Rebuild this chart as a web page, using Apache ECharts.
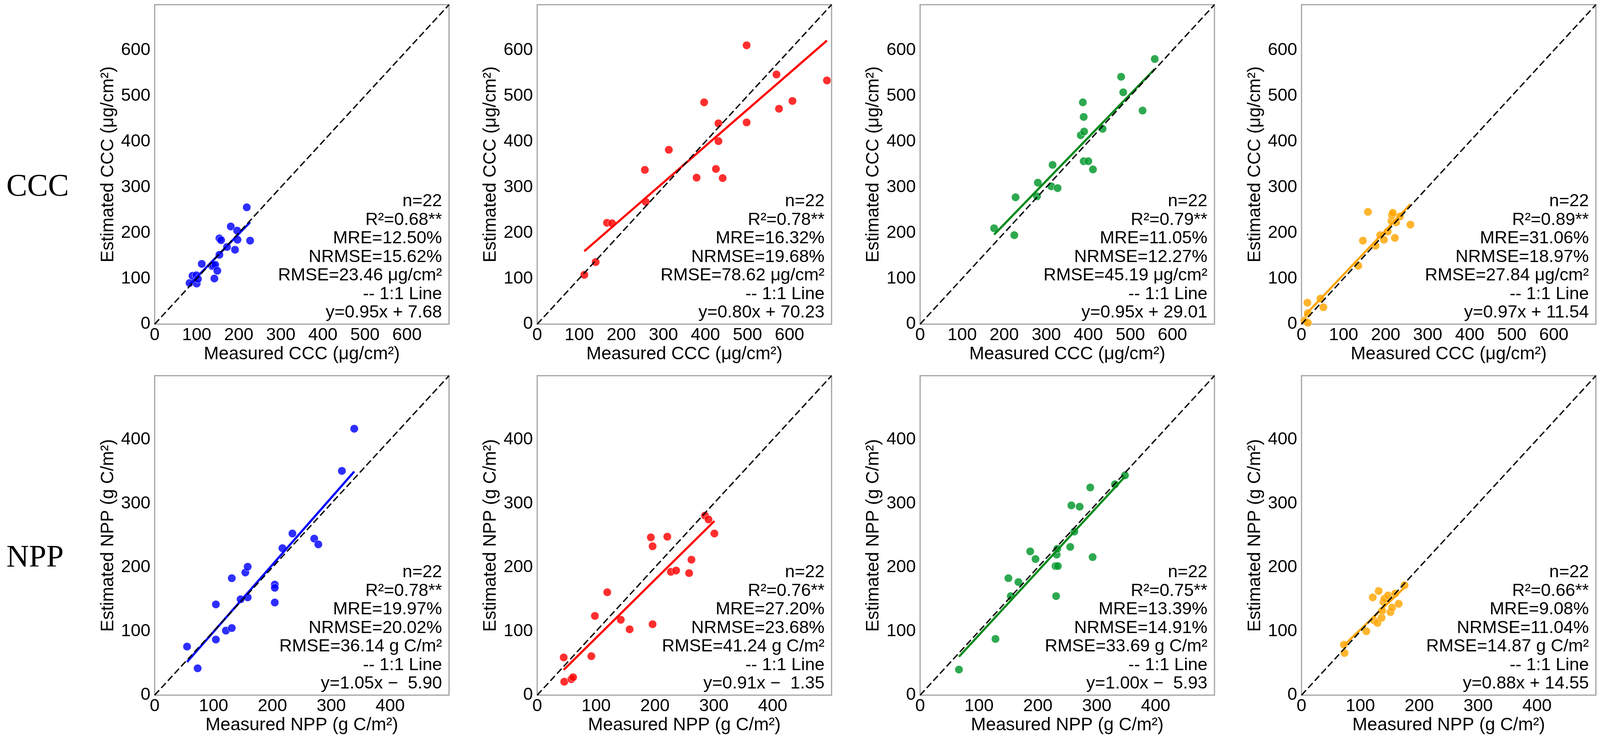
<!DOCTYPE html>
<html lang="en">
<head>
<meta charset="UTF-8">
<script src="https://cdn.jsdelivr.net/npm/echarts@6.0.0/dist/echarts.min.js"></script>
<style>
    html, body { margin: 0; padding: 0; background: #fff; overflow: hidden; }
</style>
</head>
<body>
<div id="main" style="width: 100%; height: 1900px"></div>
<script>
    // ---- CCC row (μg/cm²), one pair of arrays per panel ----
    var cccMeasured1 = [83, 90, 99, 100, 103, 112, 137, 140, 144, 142, 149, 154, 154, 158, 172, 181, 191, 196, 197, 219, 227];
    var cccEstimated1 = [90, 106, 107, 89, 99, 132, 127, 128, 130, 100, 117, 152, 188, 184, 169, 214, 163, 205, 185, 256, 183];
    var cccMeasured2 = [112, 139, 166, 178, 256, 258, 313, 379, 397, 425, 431, 431, 441, 498, 498, 569, 575, 607, 689];
    var cccEstimated2 = [108, 136, 222, 221, 338, 268, 382, 321, 486, 340, 440, 401, 320, 611, 442, 547, 472, 489, 534];
    var cccMeasured3 = [176, 224, 227, 278, 280, 312, 315, 327, 382, 387, 389, 390, 389, 400, 411, 434, 478, 483, 529, 558];
    var cccEstimated3 = [210, 195, 278, 280, 310, 302, 349, 298, 414, 486, 454, 422, 357, 357, 339, 428, 542, 508, 468, 581];
    var cccMeasured4 = [7, 15, 14, 15, 45, 52, 135, 146, 158, 176, 187, 196, 205, 214, 215, 217, 222, 225, 234, 259];
    var cccEstimated4 = [8, 3, 47, 24, 56, 37, 128, 183, 246, 172, 195, 185, 203, 226, 239, 244, 189, 223, 236, 218];

    // ---- NPP row (g C/m²) ----
    var nppMeasured1 = [55, 73, 104, 104, 121, 131, 131, 146, 154, 158, 158, 204, 204, 204, 217, 234, 271, 278, 318, 339];
    var nppEstimated1 = [76, 42, 87, 142, 101, 105, 183, 150, 192, 201, 153, 173, 168, 145, 230, 253, 245, 236, 351, 417];
    var nppMeasured2 = [45, 46, 58, 61, 92, 98, 119, 142, 157, 193, 196, 196, 221, 227, 236, 258, 262, 285, 291, 301];
    var nppEstimated2 = [59, 21, 25, 28, 61, 124, 161, 118, 103, 247, 233, 111, 248, 193, 195, 191, 212, 281, 275, 253];
    var nppMeasured3 = [66, 128, 150, 154, 167, 187, 196, 230, 234, 232, 233, 231, 255, 257, 262, 271, 289, 293, 331, 348];
    var nppEstimated3 = [40, 88, 183, 155, 177, 225, 213, 202, 202, 220, 229, 155, 232, 297, 256, 295, 325, 216, 330, 344];
    var nppMeasured4 = [72, 73, 110, 121, 123, 129, 131, 136, 137, 139, 141, 147, 151, 154, 159, 165, 175];
    var nppEstimated4 = [79, 66, 100, 153, 117, 113, 163, 121, 132, 146, 151, 156, 130, 137, 159, 143, 172];

    // fitted lines and statistics
    var cccSlope = [0.95, 0.80, 0.95, 0.97];
    var cccIntercept = [7.68, 70.23, 29.01, 11.54];
    var nppSlope = [1.05, 0.91, 1.00, 0.88];
    var nppIntercept = [-5.90, -1.35, -5.93, 14.55];

    var cccR2 = ['0.68', '0.78', '0.79', '0.89'];
    var cccMRE = ['12.50', '16.32', '11.05', '31.06'];
    var cccNRMSE = ['15.62', '19.68', '12.27', '18.97'];
    var cccRMSE = ['23.46', '78.62', '45.19', '27.84'];
    var nppR2 = ['0.78', '0.76', '0.75', '0.66'];
    var nppMRE = ['19.97', '27.20', '13.39', '9.08'];
    var nppNRMSE = ['20.02', '23.68', '14.91', '11.04'];
    var nppRMSE = ['36.14', '41.24', '33.69', '14.87'];

    var sampleCount = 22;
    var cccAxisMax = 700;
    var nppAxisMax = 500;
    var tickStep = 100;

    var pointColors = ['#0000ff', '#ff0000', '#00962a', '#ffa500'];
    var lineColors = ['#0000ff', '#ff0000', '#078a1c', '#ffa500'];

    var chartDom = document.getElementById('main');
    // layout (px, for a 4283 wide page; scaled if the window is narrower)
    var sx = (chartDom.clientWidth || 4283) / 4283;
    var plotLefts = [414, 1438, 2463, 3484];
    var rowTops = [12, 962];
    var plotW = 788;
    var plotH = 818;
    var sansFont = 'Liberation Sans, Arial, sans-serif';
    var serifFont = 'Liberation Serif, Times New Roman, serif';

    var rows = [
        {
            label: 'CCC', unit: 'μg/cm²', max: cccAxisMax,
            xName: 'Measured CCC (μg/cm²)', yName: 'Estimated CCC (μg/cm²)',
            meas: [cccMeasured1, cccMeasured2, cccMeasured3, cccMeasured4],
            est: [cccEstimated1, cccEstimated2, cccEstimated3, cccEstimated4],
            slope: cccSlope, intercept: cccIntercept,
            r2: cccR2, mre: cccMRE, nrmse: cccNRMSE, rmse: cccRMSE
        },
        {
            label: 'NPP', unit: 'g C/m²', max: nppAxisMax,
            xName: 'Measured NPP (g C/m²)', yName: 'Estimated NPP (g C/m²)',
            meas: [nppMeasured1, nppMeasured2, nppMeasured3, nppMeasured4],
            est: [nppEstimated1, nppEstimated2, nppEstimated3, nppEstimated4],
            slope: nppSlope, intercept: nppIntercept,
            r2: nppR2, mre: nppMRE, nrmse: nppNRMSE, rmse: nppRMSE
        }
    ];

    function equationText(a, b) {
        var s = 'y=' + a.toFixed(2) + 'x ';
        if (b < 0) {
            s += '\u2212  ' + (-b).toFixed(2);
        } else {
            s += '+ ' + b.toFixed(2);
        }
        return s;
    }

    var option = {
        animation: false,
        backgroundColor: '#fff',
        grid: [],
        xAxis: [],
        yAxis: [],
        series: [],
        graphic: []
    };

    echarts.util.each(rows, function (row, r) {
        // row label on the far left
        option.graphic.push({
            type: 'text',
            left: 17 * sx,
            top: rowTops[r] + 470 - 42,
            style: {
                text: row.label,
                font: '80px ' + serifFont,
                fill: '#000'
            }
        });

        for (var c = 0; c < 4; c++) {
            var idx = r * 4 + c;
            var meas = row.meas[c];
            var est = row.est[c];

            option.grid.push({
                left: plotLefts[c] * sx,
                top: rowTops[r],
                width: plotW * sx,
                height: plotH,
                show: true,
                borderColor: '#a3a3a3',
                borderWidth: 3
            });

            var axisLabel = {
                fontSize: 45,
                fontFamily: sansFont,
                color: '#000',
                showMaxLabel: false
            };
            option.xAxis.push({
                gridIndex: idx,
                type: 'value',
                min: 0,
                max: row.max,
                interval: tickStep,
                name: row.xName,
                nameLocation: 'middle',
                nameGap: 54,
                nameTextStyle: { fontSize: 46, fontFamily: sansFont, color: '#000' },
                axisLine: { show: false },
                axisTick: { show: false },
                splitLine: { show: false },
                axisLabel: echarts.util.extend({ margin: 6 }, axisLabel)
            });
            option.yAxis.push({
                gridIndex: idx,
                type: 'value',
                min: 0,
                max: row.max,
                interval: tickStep,
                name: row.yName,
                nameLocation: 'middle',
                nameGap: 96,
                nameTextStyle: { fontSize: 46, fontFamily: sansFont, color: '#000' },
                axisLine: { show: false },
                axisTick: { show: false },
                splitLine: { show: false },
                axisLabel: echarts.util.extend({ margin: 11 }, axisLabel)
            });

            var pts = [];
            for (var k = 0; k < meas.length; k++) {
                pts.push([meas[k], est[k]]);
            }
            option.series.push({
                type: 'scatter',
                xAxisIndex: idx,
                yAxisIndex: idx,
                data: pts,
                symbolSize: 21,
                z: 2,
                itemStyle: {
                    color: pointColors[c],
                    opacity: 0.82,
                    borderColor: '#fff',
                    borderWidth: 1
                }
            });

            // fitted line over the measured range
            var xMin = Math.min.apply(null, meas);
            var xMax = Math.max.apply(null, meas);
            var a = row.slope[c], b = row.intercept[c];
            option.series.push({
                type: 'line',
                xAxisIndex: idx,
                yAxisIndex: idx,
                data: [[xMin, a * xMin + b], [xMax, a * xMax + b]],
                showSymbol: false,
                silent: true,
                z: 3,
                lineStyle: { color: lineColors[c], width: 5.5 }
            });

            // 1:1 line
            option.series.push({
                type: 'line',
                xAxisIndex: idx,
                yAxisIndex: idx,
                data: [[0, 0], [row.max, row.max]],
                showSymbol: false,
                silent: true,
                z: 4,
                lineStyle: { color: '#000', width: 3.5, type: [17, 8] }
            });

            var lines = [
                'n=' + sampleCount,
                'R²=' + row.r2[c] + '**',
                'MRE=' + row.mre[c] + '%',
                'NRMSE=' + row.nrmse[c] + '%',
                'RMSE=' + row.rmse[c] + ' ' + row.unit,
                '-- 1:1 Line',
                equationText(a, b)
            ];
            option.graphic.push({
                type: 'text',
                x: (plotLefts[c] + plotW) * sx - 18,
                y: rowTops[r] + 480,
                z: 10,
                style: {
                    text: lines.join('\n'),
                    font: '45px ' + sansFont,
                    fill: '#000',
                    align: 'right',
                    verticalAlign: 'top',
                    lineHeight: 47.5
                }
            });
        }
    });

    var chart = echarts.init(chartDom, null, { renderer: 'canvas' });
    chart.setOption(option);
</script>
</body>
</html>
